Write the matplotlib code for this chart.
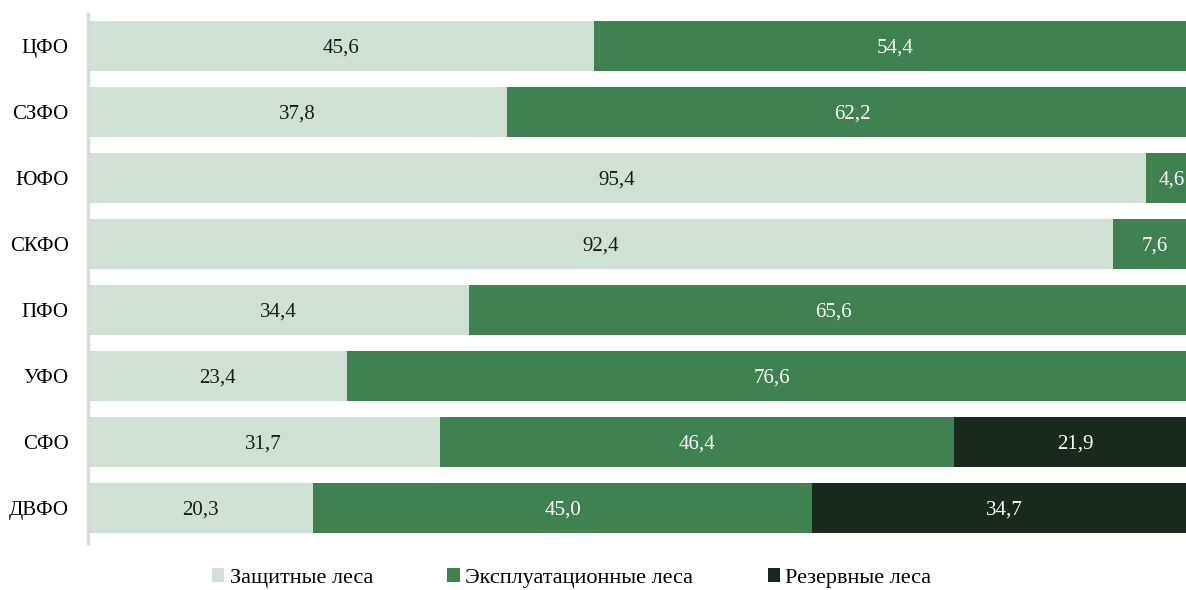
import matplotlib.pyplot as plt
from matplotlib.patches import Patch

regions = ['ЦФО', 'СЗФО', 'ЮФО', 'СКФО', 'ПФО', 'УФО', 'СФО', 'ДВФО']
protective = [45.6, 37.8, 95.4, 92.4, 34.4, 23.4, 31.7, 20.3]
exploitation = [54.4, 62.2, 4.6, 7.6, 65.6, 76.6, 46.4, 45.0]
reserve = [0, 0, 0, 0, 0, 0, 21.9, 34.7]
series_names = ['Защитные леса', 'Эксплуатационные леса', 'Резервные леса']
colors = ['#cfe0d4', '#3f8150', '#19291e']
text_colors = ['#1a1a1a', 'white', 'white']

plt.rcParams['font.family'] = ['Liberation Serif', 'DejaVu Serif']

fig = plt.figure(figsize=(11.86, 5.9), dpi=100)
# the plot runs a little past the right edge of the figure, as in the source
ax = fig.add_axes([0.0742, 0.0797, 0.935, 0.8966])

ypos = list(range(len(regions)))
left = [0] * len(regions)
for vals, col, tcol in zip([protective, exploitation, reserve], colors, text_colors):
    ax.barh(ypos, vals, left=left, height=0.76, color=col, edgecolor='none')
    for y, v, l in zip(ypos, vals, left):
        if v > 0:
            ax.text(l + v / 2, y, f'{v:.1f}'.replace('.', ','), ha='center',
                    va='center_baseline', fontsize=15, color=tcol)
    left = [a + b for a, b in zip(left, vals)]

ax.set_xlim(0, 100)
ax.set_ylim(7.53, -0.485)
ax.set_yticks(ypos)
ax.set_yticklabels(regions, fontsize=15)
ax.tick_params(axis='y', length=0, pad=14)
ax.set_xticks([])
for s in ['top', 'right', 'bottom']:
    ax.spines[s].set_visible(False)
ax.spines['left'].set_color('#d9d9d9')
ax.spines['left'].set_linewidth(2.5)

handles = [Patch(facecolor=c, edgecolor='none') for c in colors]
fig.legend(handles, series_names, loc='center', bbox_to_anchor=(0.482, 0.02), ncol=3,
           frameon=False, fontsize=16, handlelength=0.55, handleheight=0.55,
           handletextpad=0.25, columnspacing=3.35)

fig.savefig('out.png', dpi=100)
